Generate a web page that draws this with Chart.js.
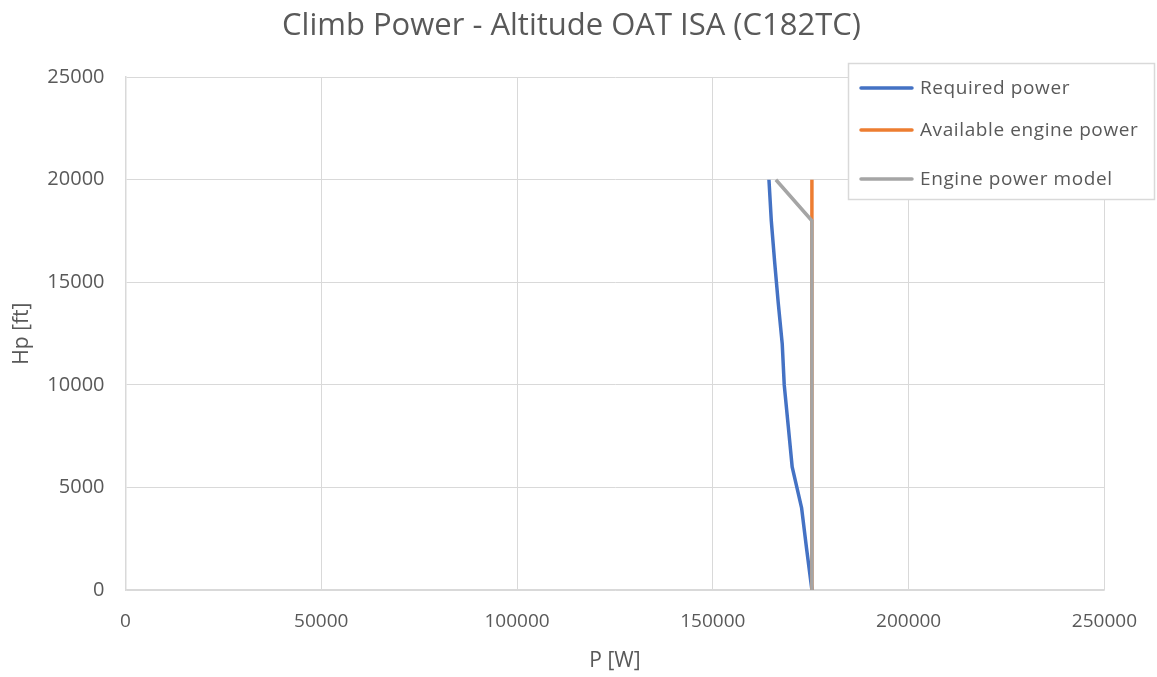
<!DOCTYPE html>
<html>
<head>
    <meta charset="UTF-8">
    <script src="https://cdn.jsdelivr.net/npm/chart.js@4.4.1/dist/chart.umd.min.js"></script>
    <style>
        html, body { margin:0; padding:0; background:#fff; }
        #wrap { position:relative; width:1157px; height:677px; }
    </style>
</head>
<body>
<div id="wrap">
    <canvas id="climbChart" width="1157" height="677"></canvas>
</div>
<script>
    // altitude [ft]
    const altitudes = [0, 2000, 4000, 6000, 8000, 10000, 12000, 14000, 16000, 18000, 20000];
    // power [W]
    const requiredPower = [175300, 173950, 172670, 170260, 169250, 168230, 167720, 166700, 165780, 164930, 164330];
    const availablePower = [175300, 175300, 175300, 175300, 175300, 175300, 175300, 175300, 175300, 175300, 175300];
    const modelPower = [175300, 175300, 175300, 175300, 175300, 175300, 175300, 175300, 175300, 175300, 166100];

    const xTicks = [0, 50000, 100000, 150000, 200000, 250000];
    const yTicks = [0, 5000, 10000, 15000, 20000, 25000];

    const textColor = '#595959';
    const gridColor = '#d9d9d9';
    const fontFamily = "'Open Sans', 'Noto Sans', sans-serif";

    function toPoints(xs, ys) {
        var pts = [];
        for (var i = 0; i < xs.length; i++) {
            pts.push({x: xs[i], y: ys[i]});
        }
        return pts;
    }

    // legend box drawn at top right, over the plot edge like the excel one
    const boxLegend = {
        id: 'boxLegend',
        afterDraw(chart) {
            const ctx = chart.ctx;
            const x0 = 848.5, y0 = 63.5, w = 306, h = 136;
            ctx.save();
            ctx.fillStyle = '#fff';
            ctx.fillRect(x0, y0, w, h);
            ctx.strokeStyle = gridColor;
            ctx.lineWidth = 1.5;
            ctx.strokeRect(x0, y0, w, h);
            ctx.font = '19px ' + fontFamily;
            ctx.letterSpacing = '0.6px';
            ctx.textBaseline = 'middle';
            const rows = [88, 130, 179];
            chart.data.datasets.forEach(function(ds, i) {
                ctx.strokeStyle = ds.borderColor;
                ctx.lineWidth = 3.5;
                ctx.lineCap = 'round';
                ctx.beginPath();
                ctx.moveTo(861, rows[i]);
                ctx.lineTo(912, rows[i]);
                ctx.stroke();
                ctx.fillStyle = textColor;
                ctx.fillText(ds.label, 920, rows[i] + 1);
            });
            ctx.restore();
        }
    };

    new Chart(document.getElementById('climbChart'), {
        type: 'scatter',
        data: {
            datasets: [
                {
                    label: 'Required power',
                    data: toPoints(requiredPower, altitudes),
                    borderColor: '#4472C4',
                    order: 2
                },
                {
                    label: 'Available engine power',
                    data: toPoints(availablePower, altitudes),
                    borderColor: '#ED7D31',
                    order: 1
                },
                {
                    label: 'Engine power model',
                    data: toPoints(modelPower, altitudes),
                    borderColor: '#A5A5A5',
                    order: 0
                }
            ]
        },
        options: {
            responsive: false,
            animation: false,
            showLine: true,
            elements: {
                point: { radius: 0, hoverRadius: 0 },
                line: { borderWidth: 3.5, tension: 0, borderCapStyle: 'butt' }
            },
            layout: { padding: { left: 0, right: 14, top: 0, bottom: 0 } },
            plugins: {
                legend: { display: false },
                tooltip: { enabled: false },
                title: {
                    display: true,
                    text: 'Climb Power - Altitude OAT ISA (C182TC)',
                    color: textColor,
                    font: { family: fontFamily, size: 31, weight: 'normal', lineHeight: 1.2 },
                    padding: { top: 8, bottom: 32 }
                }
            },
            scales: {
                x: {
                    type: 'linear',
                    min: 0,
                    max: 250000,
                    afterBuildTicks: function(scale) {
                        scale.ticks = xTicks.map(function(v) { return {value: v}; });
                    },
                    afterFit: function(scale) { scale.height = 87; },
                    grid: { color: gridColor, lineWidth: 1, drawTicks: false },
                    border: { color: gridColor, width: 1.5 },
                    ticks: {
                        color: textColor,
                        padding: 20,
                        maxRotation: 0,
                        font: { family: fontFamily, size: 19 },
                        callback: function(v) { return String(v); }
                    },
                    title: {
                        display: true,
                        text: 'P [W]',
                        color: textColor,
                        font: { family: fontFamily, size: 21 },
                        padding: { top: 4, bottom: 3 }
                    }
                },
                y: {
                    type: 'linear',
                    min: 0,
                    max: 25000,
                    afterBuildTicks: function(scale) {
                        scale.ticks = yTicks.map(function(v) { return {value: v}; });
                    },
                    afterFit: function(scale) { scale.width = 125.5; },
                    grid: { color: gridColor, lineWidth: 1, drawTicks: false },
                    border: { color: gridColor, width: 1.5 },
                    ticks: {
                        color: textColor,
                        padding: 21,
                        font: { family: fontFamily, size: 20 },
                        callback: function(v) { return String(v); }
                    },
                    title: {
                        display: true,
                        text: 'Hp [ft]',
                        color: textColor,
                        font: { family: fontFamily, size: 21 },
                        padding: { top: 9, bottom: 4 }
                    }
                },
                // empty spacer on the right so the plot ends where excel's does
                spacer: {
                    type: 'linear',
                    position: 'right',
                    display: true,
                    min: 0,
                    max: 1,
                    afterFit: function(scale) { scale.width = 34; },
                    grid: { display: false, drawOnChartArea: false },
                    border: { display: false },
                    ticks: { display: false }
                }
            }
        },
        plugins: [boxLegend]
    });
</script>
</body>
</html>
